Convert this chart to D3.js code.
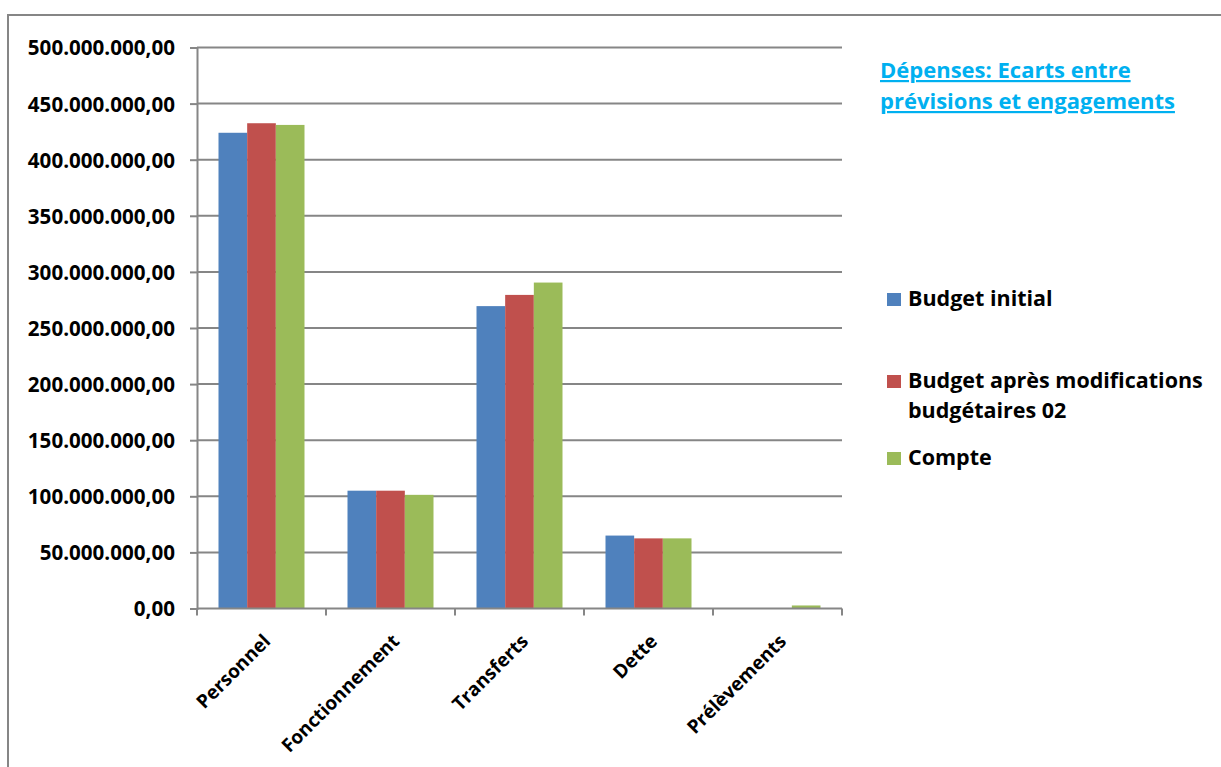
<!DOCTYPE html>
<html>
<head>
<meta charset="utf-8">
<script src="https://cdn.jsdelivr.net/npm/d3@7"></script>
<style>
  html, body { margin: 0; padding: 0; background: #fff; }
  svg { display: block; }
  text { font-family: "Open Sans", Lato, sans-serif; font-weight: bold; }
</style>
</head>
<body>
<svg id="chart" width="1221" height="767"></svg>
<script>
// Expense categories and the three series (in currency units)
const categories = ["Personnel", "Fonctionnement", "Transferts", "Dette", "Prélèvements"];
const seriesNames = ["Budget initial", "Budget après modifications budgétaires 02", "Compte"];
const budgetInitial = [424000000, 105000000, 269500000, 65000000, 0];
const budgetModifie = [432500000, 105000000, 279500000, 62500000, 0];
const compte        = [431000000, 101300000, 290500000, 62500000, 2700000];
const yTicks = [0, 50000000, 100000000, 150000000, 200000000, 250000000, 300000000, 350000000, 400000000, 450000000, 500000000];
const legendLines = [["Budget initial"], ["Budget après modifications", "budgétaires 02"], ["Compte"]];
const titleLines = ["Dépenses: Ecarts entre", "prévisions et engagements"];
const colors = ["#4F81BD", "#C0504D", "#9BBB59"];

const series = [budgetInitial, budgetModifie, compte];

const svg = d3.select("#chart");

// Outer chart frame (top and left edges visible)
svg.append("path")
  .attr("d", "M8,767 V15 H1221")
  .attr("fill", "none")
  .attr("stroke", "#868686")
  .attr("stroke-width", 2);

const plot = { left: 197, right: 842, top: 47.5, bottom: 608.5 };

const x0 = d3.scaleBand()
  .domain(categories)
  .range([plot.left, plot.right])
  .paddingInner(0)
  .paddingOuter(0);

const x1 = d3.scaleBand()
  .domain(d3.range(series.length))
  .range([0, x0.bandwidth()])
  .paddingInner(0)
  .paddingOuter(0.75);

const y = d3.scaleLinear()
  .domain([0, 500000000])
  .range([plot.bottom, plot.top]);

// French number format: 450.000.000,00
const fmt = v => d3.format(",.2f")(v).replace(/,/g, " ").replace(".", ",").replace(/ /g, ".");

// Horizontal gridlines
svg.append("g")
  .selectAll("line")
  .data(yTicks.filter(t => t > 0))
  .join("line")
  .attr("x1", plot.left)
  .attr("x2", plot.right)
  .attr("y1", d => y(d))
  .attr("y2", d => y(d))
  .attr("stroke", "#868686")
  .attr("stroke-width", 2);

// Bars
const groups = svg.append("g")
  .selectAll("g")
  .data(categories)
  .join("g")
  .attr("transform", d => `translate(${x0(d)},0)`);

groups.selectAll("rect")
  .data((d, i) => series.map((s, k) => ({ k, v: s[i] })))
  .join("rect")
  .attr("x", d => x1(d.k))
  .attr("width", x1.bandwidth())
  .attr("y", d => y(d.v))
  .attr("height", d => y(0) - y(d.v))
  .attr("fill", d => colors[d.k]);

// Y axis
const yAxis = svg.append("g")
  .attr("transform", `translate(${plot.left},0)`)
  .call(d3.axisLeft(y).tickValues(yTicks).tickFormat(fmt).tickSizeOuter(0).tickSize(7).tickPadding(15));
yAxis.select(".domain").attr("stroke", "#868686").attr("stroke-width", 2);
yAxis.selectAll(".tick line").attr("stroke", "#868686").attr("stroke-width", 2);
yAxis.selectAll(".tick text")
  .attr("fill", "#000")
  .attr("dy", "0.36em")
  .style("font-size", "20.6px")
  .style("font-family", "'Open Sans', sans-serif")
  .style("font-weight", "bold");

// X axis with tick marks at category boundaries
const xAxisG = svg.append("g").attr("transform", `translate(0,${plot.bottom})`);
xAxisG.append("line")
  .attr("x1", plot.left).attr("x2", plot.right)
  .attr("stroke", "#868686").attr("stroke-width", 2);
const boundaries = categories.map(c => x0(c)).concat([plot.right]);
xAxisG.selectAll("line.tk")
  .data(boundaries)
  .join("line")
  .attr("class", "tk")
  .attr("x1", d => d).attr("x2", d => d)
  .attr("y1", 0).attr("y2", 7)
  .attr("stroke", "#868686").attr("stroke-width", 2);

xAxisG.selectAll("text")
  .data(categories)
  .join("text")
  .attr("transform", d => `translate(${x0(d) + x0.bandwidth() / 2 + 10},${34}) rotate(-45)`)
  .attr("text-anchor", "end")
  .attr("fill", "#000")
  .style("font-size", "19px")
  .text(d => d);

// Title (underlined, light blue)
const title = svg.append("text")
  .attr("x", 880)
  .attr("y", 78)
  .attr("fill", "#00B0F0")
  .style("font-size", "22px")
  .style("text-decoration", "underline");
title.selectAll("tspan")
  .data(titleLines)
  .join("tspan")
  .attr("x", 880)
  .attr("dy", (d, i) => i === 0 ? 0 : 31)
  .text(d => d);

// Legend
const legendBase = [306, 388, 465];
const legend = svg.append("g");
seriesNames.forEach((name, i) => {
  legend.append("rect")
    .attr("x", 887)
    .attr("y", legendBase[i] - 13)
    .attr("width", 14)
    .attr("height", 13)
    .attr("fill", colors[i]);
  const t = legend.append("text")
    .attr("x", 908)
    .attr("y", legendBase[i])
    .attr("fill", "#000")
    .style("font-size", "21.5px");
  t.selectAll("tspan")
    .data(legendLines[i])
    .join("tspan")
    .attr("x", 908)
    .attr("dy", (d, j) => j === 0 ? 0 : 30)
    .text(d => d);
});
</script>
</body>
</html>
